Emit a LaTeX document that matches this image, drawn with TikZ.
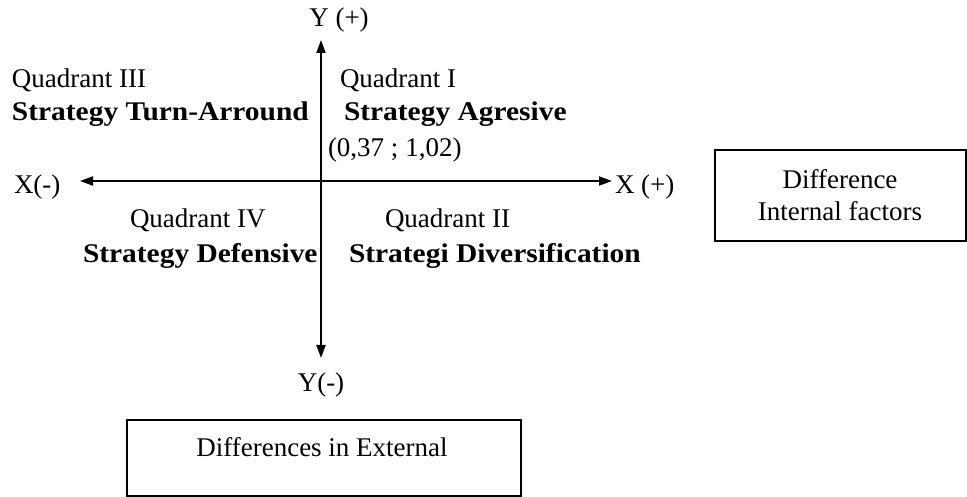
\documentclass[tikz,border=0pt]{standalone}
\usepackage{fontspec}
\setmainfont{Liberation Serif}
\usetikzlibrary{arrows.meta}
\newcommand{\strat}[1]{\scalebox{1.09}[1]{\bfseries #1}}
\begin{document}
\begin{tikzpicture}[x=1pt,y=1pt,
  txt/.style={anchor=base,inner sep=0pt,outer sep=0pt,font=\fontsize{27}{30}\selectfont},
  txtw/.style={txt,anchor=base west},
  axis/.style={line width=1.8pt,{Triangle[length=13pt,width=9pt]}-{Triangle[length=13pt,width=9pt]}},
  frame/.style={draw,line width=1.5pt}]
\path[use as bounding box] (0,0) rectangle (967,497);

% axes
\coordinate (yt) at (321,457);
\coordinate (yb) at (321,139);
\coordinate (xl) at ( 80,316);
\coordinate (xr) at (612,316);
\draw[axis] (yb) -- (yt);
\draw[axis] (xl) -- (xr);

\node[txt] (ypos) at (339,470) {Y (+)};
\node[txt] (yneg) at (321,105) {Y(-)};
\node[txtw] (xneg) at ( 14,303) {X(-)};
\node[txtw] (xpos) at (615,303) {X (+)};

% quadrants
\node[txtw] (q3) at ( 12,409) {Quadrant III};
\node[txtw] (s3) at ( 12,376) {\strat{Strategy Turn-Arround}};
\node[txtw] (q1) at (340,409) {Quadrant I};
\node[txtw] (s1) at (344,376) {\strat{Strategy Agresive}};
\node[txtw] (pt) at (328,340) {(0,37 ; 1,02)};
\node[txtw] (q4) at (130,269) {Quadrant IV};
\node[txtw] (s4) at ( 83,234) {\strat{Strategy Defensive}};
\node[txtw] (q2) at (385,269) {Quadrant II};
\node[txtw] (s2) at (349,234) {\strat{Strategi Diversification}};

% boxes
\path[frame] (127,1) rectangle (521,77);
\node[txt] (ext) at (322,40) {Differences in External};
\path[frame] (715,256) rectangle (966,347);
\node[txt] (int1) at (840,308) {Difference};
\node[txt] (int2) at (840,276) {Internal factors};
\end{tikzpicture}
\end{document}
